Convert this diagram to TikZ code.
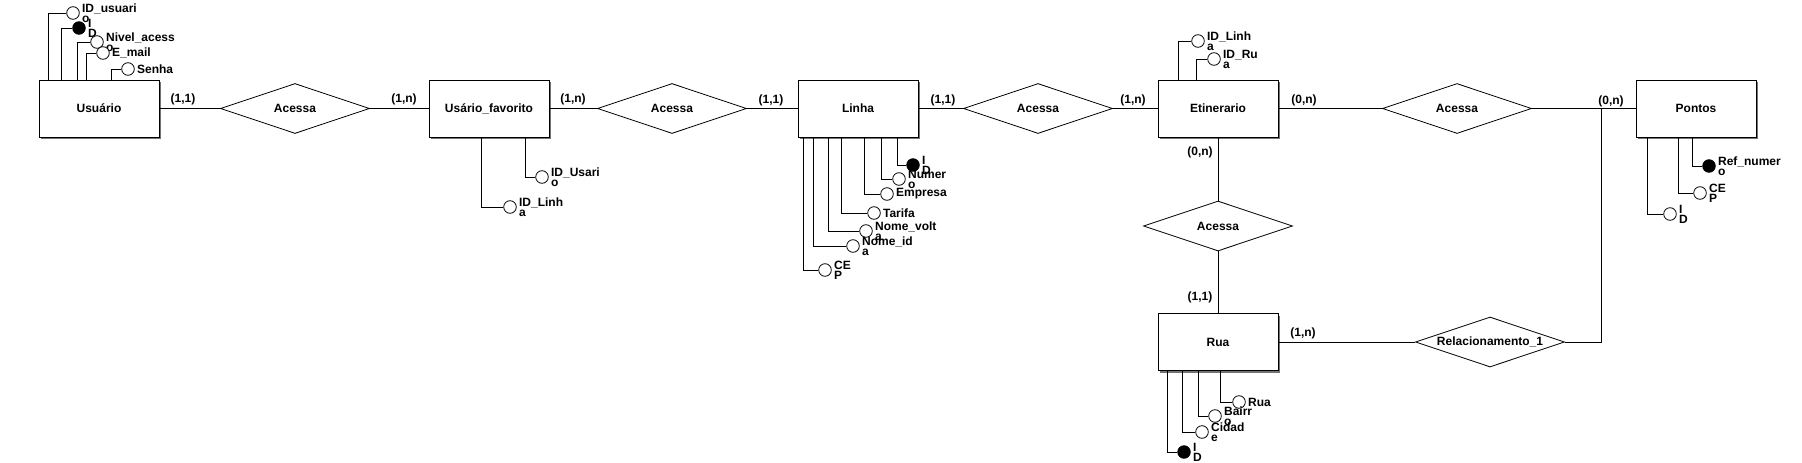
\documentclass[tikz,border=0pt]{standalone}
\usepackage{fontspec}
\setmainfont{Liberation Sans}
\usetikzlibrary{shapes.geometric,shadows}
\tikzset{every path/.style={black,line width=0.8pt},
  every node/.style={font=\bfseries\fontsize{12}{10}\selectfont},
  entidade/.style={draw,fill=white,minimum width=120,minimum height=57,
    drop shadow={shadow xshift=2pt,shadow yshift=-2pt,fill=black!55,opacity=1}},
  relac/.style={diamond,draw,aspect=3,inner sep=0pt,minimum width=149,minimum height=50},
  atrib/.style={circle,draw,fill=white,minimum size=12.6,inner sep=0pt},
  chave/.style={atrib,fill=black},
  rot/.style={align=left,inner sep=1pt,label distance=1pt}}

\begin{document}
\begin{tikzpicture}[x=1pt,y=-1pt]
  \useasboundingbox (0,0) rectangle (1802,463);
  % entidades
  \node[entidade] (usuario) at (99,108.5) {Usuário};
  \node[entidade] (favorito) at (489,108.5) {Usário\_favorito};
  \node[entidade] (linha) at (858,108.5) {Linha};
  \node[entidade] (etinerario) at (1218,108.5) {Etinerario};
  \node[entidade] (rua) at (1218,342) {Rua};
  \node[entidade] (pontos) at (1696,108.5) {Pontos};
  % relacionamentos
  \node[relac] (r1) at (295,108.5) {Acessa};
  \node[relac] (r2) at (672,108.5) {Acessa};
  \node[relac] (r3) at (1038,108.5) {Acessa};
  \node[relac] (r4) at (1457,108.5) {Acessa};
  \node[relac] (r5) at (1218,226) {Acessa};
  \node[relac] (r6) at (1490,342) {Relacionamento\_1};
  \coordinate (jn) at (1601,108.5);

  \draw (usuario.east) -- (r1.west);
  \draw (r1.east) -- (favorito.west);
  \draw (favorito.east) -- (r2.west);
  \draw (r2.east) -- (linha.west);
  \draw (linha.east) -- (r3.west);
  \draw (r3.east) -- (etinerario.west);
  \draw (etinerario.east) -- (r4.west);
  \draw (r4.east) -- (pontos.west);
  \draw (etinerario.south) -- (r5.north);
  \draw (r5.south) -- (rua.north);
  \draw (rua.east) -- (r6.west);
  \draw (r6.east) -| (jn);

  % cardinalidades
  \node (c1) at (183,99) {(1,1)};
  \node (c2) at (404,99) {(1,n)};
  \node (c3) at (573,99) {(1,n)};
  \node (c4) at (771,100) {(1,1)};
  \node (c5) at (943,100) {(1,1)};
  \node (c6) at (1133,100) {(1,n)};
  \node (c7) at (1304,100) {(0,n)};
  \node (c8) at (1611,101) {(0,n)};
  \node (c9) at (1200,152) {(0,n)};
  \node (c10) at (1200,297) {(1,1)};
  \node (c11) at (1303,333) {(1,n)};

  % atributos Usuario
  \node[atrib,label={[rot]right:ID\_usuari\\o}] (u1) at (73,13) {};
  \node[chave,label={[rot]right:I\\D}] (u2) at (79,28) {};
  \node[atrib,label={[rot]right:Nivel\_acess\\o}] (u3) at (97,42) {};
  \node[atrib,label={[rot]right:E\_mail}] (u4) at (103,53) {};
  \node[atrib,label={[rot]right:Senha}] (u5) at (128,69) {};
  \draw (u1.west) -| ([xshift=10]usuario.north west);
  \draw (u2.west) -| ([xshift=23]usuario.north west);
  \draw (u3.west) -| ([xshift=39]usuario.north west);
  \draw (u4.west) -| ([xshift=48]usuario.north west);
  \draw (u5.west) -| ([xshift=73]usuario.north west);

  % atributos Usario_favorito
  \node[atrib,label={[rot]right:ID\_Usari\\o}] (f1) at (542,177) {};
  \node[atrib,label={[rot]right:ID\_Linh\\a}] (f2) at (510,207) {};
  \draw (f1.west) -| ([xshift=97]favorito.south west);
  \draw (f2.west) -| ([xshift=53]favorito.south west);

  % atributos Linha
  \node[chave,label={[rot]right:I\\D}] (l1) at (913,165) {};
  \node[atrib,label={[rot]right:Numer\\o}] (l2) at (899,179) {};
  \node[atrib,label={[rot]right:Empresa}] (l3) at (887,194) {};
  \node[atrib,label={[rot]right:Tarifa}] (l4) at (874,213) {};
  \node[atrib,label={[rot]right:Nome\_volt\\a}] (l5) at (866,231) {};
  \node[atrib,label={[rot]right:Nome\_id\\a}] (l6) at (853,246) {};
  \node[atrib,label={[rot]right:CE\\P}] (l7) at (825,270) {};
  \draw (l1.west) -| ([xshift=100]linha.south west);
  \draw (l2.west) -| ([xshift=84]linha.south west);
  \draw (l3.west) -| ([xshift=67]linha.south west);
  \draw (l4.west) -| ([xshift=44]linha.south west);
  \draw (l5.west) -| ([xshift=31]linha.south west);
  \draw (l6.west) -| ([xshift=16]linha.south west);
  \draw (l7.west) -| ([xshift=6]linha.south west);

  % atributos Etinerario
  \node[atrib,label={[rot]right:ID\_Linh\\a}] (e1) at (1198,41) {};
  \node[atrib,label={[rot]right:ID\_Ru\\a}] (e2) at (1214,59) {};
  \draw (e1.west) -| ([xshift=21]etinerario.north west);
  \draw (e2.west) -| ([xshift=39]etinerario.north west);

  % atributos Rua
  \node[atrib,label={[rot]right:Rua}] (ru1) at (1239,402) {};
  \node[atrib,label={[rot]right:Bairr\\o}] (ru2) at (1215,416) {};
  \node[atrib,label={[rot]right:Cidad\\e}] (ru3) at (1202,432) {};
  \node[chave,label={[rot]right:I\\D}] (ru4) at (1184,452) {};
  \draw (ru1.west) -| ([xshift=63]rua.south west);
  \draw (ru2.west) -| ([xshift=41]rua.south west);
  \draw (ru3.west) -| ([xshift=25]rua.south west);
  \draw (ru4.west) -| ([xshift=10]rua.south west);

  % atributos Pontos
  \node[chave,label={[rot]right:Ref\_numer\\o}] (p1) at (1709,166) {};
  \node[atrib,label={[rot]right:CE\\P}] (p2) at (1700,193) {};
  \node[atrib,label={[rot]right:I\\D}] (p3) at (1670,214) {};
  \draw (p1.west) -| ([xshift=57]pontos.south west);
  \draw (p2.west) -| ([xshift=43]pontos.south west);
  \draw (p3.west) -| ([xshift=12]pontos.south west);
\end{tikzpicture}
\end{document}
